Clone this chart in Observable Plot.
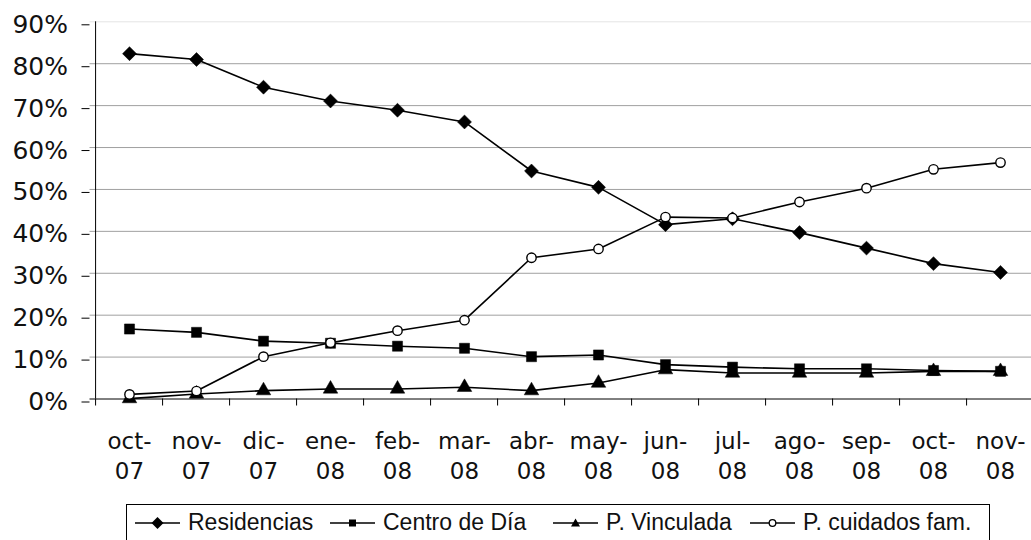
<!DOCTYPE html>
<html>
<head>
<meta charset="utf-8">
<script src="https://cdn.jsdelivr.net/npm/d3@7"></script>
<script src="https://cdn.jsdelivr.net/npm/@observablehq/plot@0.6"></script>
<style>
  html, body { margin: 0; padding: 0; background: #fff; overflow: hidden; }
  #wrap { position: relative; width: 1031px; height: 540px; overflow: hidden; }
  #chart svg { overflow: hidden; }
  #legend {
    position: absolute; top: 504px; left: 126px; width: 864px; height: 60px;
    border: 1px solid #000; box-sizing: border-box;
    font-family: "Liberation Sans", Arial, sans-serif; font-size: 23px; color: #111;
  }
  .item { position: absolute; top: 4px; display: flex; align-items: center; white-space: nowrap; }
  .item svg { margin-right: 8px; }
</style>
</head>
<body>
<div id="wrap">
  <div id="chart"></div>
  <div id="legend"></div>
</div>
<script>
const months = ["oct-07","nov-07","dic-07","ene-08","feb-08","mar-08","abr-08","may-08","jun-08","jul-08","ago-08","sep-08","oct-08","nov-08"];
const residencias = [82.4,81.0,74.4,71.1,68.9,66.1,54.4,50.5,41.6,43.0,39.7,36.0,32.3,30.2];
const centroDia   = [16.7,15.9,13.8,13.3,12.6,12.1,10.1,10.5,8.2,7.6,7.2,7.2,6.8,6.6];
const vinculada   = [0.1,1.2,2.0,2.4,2.4,2.8,2.0,3.8,7.0,6.2,6.2,6.2,6.6,6.6];
const cuidados    = [1.1,1.9,10.1,13.4,16.3,18.8,33.7,35.8,43.4,43.2,47.0,50.3,54.8,56.4];
const seriesNames = ["Residencias","Centro de Día","P. Vinculada","P. cuidados fam."];
const yTicks = [0,10,20,30,40,50,60,70,80,90];

const seriesDefs = [
  {name: seriesNames[0], values: residencias, symbol: "diamond2", r: 6.3, fill: "#000"},
  {name: seriesNames[1], values: centroDia,   symbol: "square",   r: 5.7, fill: "#000"},
  {name: seriesNames[2], values: vinculada,   symbol: "triangle", r: 5.4, fill: "#000"},
  {name: seriesNames[3], values: cuidados,    symbol: "circle",   r: 4.7, fill: "#fff"}
];

const left = 89.5, right = 1039;
const step = (right - left) / months.length;
const yBottom = 398.5, yTop = 21.3;
const tickLen = 7 * 90 / (yBottom - yTop);

const marks = [
  Plot.gridY(yTicks.filter(d => d > 0 && d < 90), {stroke: "#a0a0a0", strokeOpacity: 1, strokeWidth: 1}),
  Plot.ruleY([90], {stroke: "#e4e4e4", strokeWidth: 1}),
  Plot.ruleX(months, {x: d => d, dx: -step / 2, y1: -tickLen, y2: 0, stroke: "#000", strokeWidth: 1}),
  Plot.ruleX([months[0]], {x: d => d, dx: -step / 2, y1: 0, y2: 90, stroke: "#000", strokeWidth: 1}),
  Plot.ruleY([0], {stroke: "#000", strokeWidth: 1}),
  Plot.axisY({ticks: yTicks, tickSize: 8, tickPadding: 14, fontSize: 25, dy: 3,
    tickFormat: d => d + "%", label: null, stroke: "#000", fill: "#111"}),
  Plot.axisX({tickSize: 0, tickPadding: 28.5, fontSize: 23, lineHeight: 1.3,
    tickFormat: d => d.replace("-", "-\n"), label: null, fill: "#111"})
];

for (const s of seriesDefs) {
  const data = months.map((m, i) => ({month: m, value: s.values[i], series: s.name}));
  marks.push(Plot.line(data, {x: "month", y: "value", stroke: "#000", strokeWidth: 1.6}));
  marks.push(Plot.dot(data, {x: "month", y: "value", symbol: s.symbol, r: s.r,
    fill: s.fill, stroke: "#000", strokeWidth: s.symbol === "circle" ? 1.4 : 0.5}));
}

const chart = Plot.plot({
  width: 1031,
  height: 500,
  marginLeft: 89.5,
  marginRight: 0,
  marginTop: 21.3,
  marginBottom: 101.5,
  style: {fontFamily: "'DejaVu Sans', Verdana, sans-serif", color: "#111", background: "#fff", overflow: "hidden"},
  x: {type: "point", domain: months, range: [left, right], padding: 0.5, axis: null},
  y: {domain: [0, 90], range: [yBottom, yTop], axis: null},
  marks
});
document.getElementById("chart").appendChild(chart);

// Legend
const legend = document.getElementById("legend");
const markerSvg = {
  "diamond2": '<path d="M22.5 3 L28.5 9 L22.5 15 L16.5 9 Z" fill="#000"/>',
  "square": '<rect x="19" y="5.5" width="7" height="7" fill="#000"/>',
  "triangle": '<path d="M22.5 4.5 L27 12.5 L18 12.5 Z" fill="#000"/>',
  "circle": '<circle cx="22.5" cy="9" r="3.3" fill="#fff" stroke="#000" stroke-width="1.3"/>'
};
const itemLeft = [8, 203, 426, 623];
seriesDefs.forEach((s, i) => {
  const item = document.createElement("div");
  item.className = "item";
  item.style.left = itemLeft[i] + "px";
  item.innerHTML = '<svg width="45" height="18" viewBox="0 0 45 18"><line x1="0" y1="9" x2="45" y2="9" stroke="#000" stroke-width="1.6"/>' +
    markerSvg[s.symbol] + '</svg><span>' + s.name + '</span>';
  legend.appendChild(item);
});
</script>
</body>
</html>
